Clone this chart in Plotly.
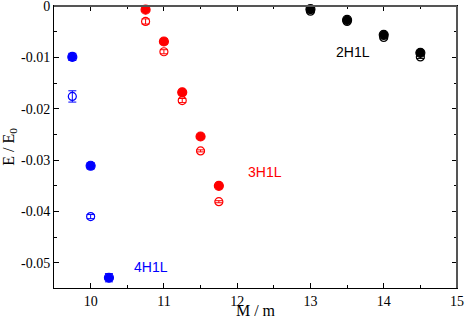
import plotly.graph_objects as go

# Data
m_4h1l = [9.75, 10.0, 10.25]
e_4h1l_filled = [-0.0099, -0.0311, -0.0529]
err_4h1l_filled = [0.0007, 0.0006, 0.0008]
m_4h1l_open = [9.75, 10.0]
e_4h1l_open = [-0.0176, -0.0410]
err_4h1l_open = [0.0011, 0.0004]

m_3h1l = [10.75, 11.0, 11.25, 11.5, 11.75]
e_3h1l_filled = [-0.0007, -0.0069, -0.0168, -0.0254, -0.0350]
err_3h1l_filled = [0.0003, 0.0005, 0.0004, 0.0002, 0.0002]
e_3h1l_open = [-0.0030, -0.0089, -0.0184, -0.0282, -0.0381]
err_3h1l_open = [0.0005, 0.0004, 0.0004, 0.0002, 0.0002]

m_2h1l = [13.0, 13.5, 14.0, 14.5]
e_2h1l_filled = [-0.0006, -0.0027, -0.0056, -0.0091]
e_2h1l_open = [-0.0010, -0.0030, -0.0061, -0.0099]
err_2h1l = [0.0003, 0.0003, 0.0003, 0.0003]

x_range = [9.5, 15]
y_range = [-0.0549, 0.00001]
x_ticks = [10, 11, 12, 13, 14, 15]
x_ticklabels = ["10", "11", "12", "13", "14", "15"]
x_minor = [9.5, 10.5, 11.5, 12.5, 13.5, 14.5]
y_ticks = [0, -0.01, -0.02, -0.03, -0.04, -0.05]
y_ticklabels = ["0", "-0.01", "-0.02", "-0.03", "-0.04", "-0.05"]
y_minor = [-0.005, -0.015, -0.025, -0.035, -0.045]

labels = ["4H1L", "3H1L", "2H1L"]
label_x = [10.83, 12.38, 13.58]
label_y = [-0.0509, -0.0323, -0.0090]
colors = ["#0000ff", "#ff0000", "#000000"]

serif = "Liberation Serif"

fig = go.Figure()

def add(x, y, err, color, filled):
    fig.add_trace(go.Scatter(
        x=x, y=y, mode="markers",
        marker=dict(symbol="circle" if filled else "circle-open",
                    size=9 if filled else 8, color=color,
                    line=dict(width=1.2, color=color)),
        error_y=dict(type="data", array=err, visible=True, color=color,
                     thickness=1, width=4),
        showlegend=False, cliponaxis=False, hoverinfo="skip"))

add(m_4h1l_open, e_4h1l_open, err_4h1l_open, colors[0], False)
add(m_4h1l, e_4h1l_filled, err_4h1l_filled, colors[0], True)
add(m_3h1l, e_3h1l_open, err_3h1l_open, colors[1], False)
add(m_3h1l, e_3h1l_filled, err_3h1l_filled, colors[1], True)
add(m_2h1l, e_2h1l_open, err_2h1l, colors[2], False)
add(m_2h1l, e_2h1l_filled, err_2h1l, colors[2], True)

for t, x, y, c in zip(labels, label_x, label_y, colors):
    fig.add_annotation(x=x, y=y, text=t, showarrow=False,
                       font=dict(family="Liberation Sans", size=14, color=c))

# plot frame (top and right edges)
fig.add_shape(type="line", xref="paper", yref="paper", x0=0, y0=1, x1=1, y1=1,
              line=dict(color="#555555", width=2), layer="above")
fig.add_shape(type="line", xref="paper", yref="paper", x0=1, y0=0, x1=1, y1=1,
              line=dict(color="#555555", width=2), layer="above")

common = dict(showgrid=False, zeroline=False, showline=True,
              linecolor="black", linewidth=1, mirror="allticks",
              ticks="inside", ticklen=5, tickcolor="black", tickwidth=1)

fig.update_layout(
    width=465, height=319,
    margin=dict(l=54, r=8, t=6, b=31, autoexpand=False),
    plot_bgcolor="white", paper_bgcolor="white",
    font=dict(family=serif, size=14, color="black"),
    xaxis=dict(range=x_range, tickvals=x_ticks, ticktext=x_ticklabels,
               tickfont=dict(family=serif, size=14, color="black"),
               minor=dict(tickvals=x_minor, ticks="inside", ticklen=3, tickcolor="black"),
               title=dict(text="M / m", standoff=0,
                          font=dict(family=serif, size=16, color="black")),
               **common),
    yaxis=dict(range=y_range, tickvals=y_ticks, ticktext=y_ticklabels,
               tickfont=dict(family=serif, size=14, color="black"),
               ticklabeloverflow="allow",
               minor=dict(tickvals=y_minor, ticks="inside", ticklen=3, tickcolor="black"),
               title=dict(text="E / E<sub>0</sub>", standoff=4,
                          font=dict(family=serif, size=16, color="black")),
               **common),
)

fig.write_html("out.html", config={"displayModeBar": False},
               post_script="document.body.style.margin='0';")
